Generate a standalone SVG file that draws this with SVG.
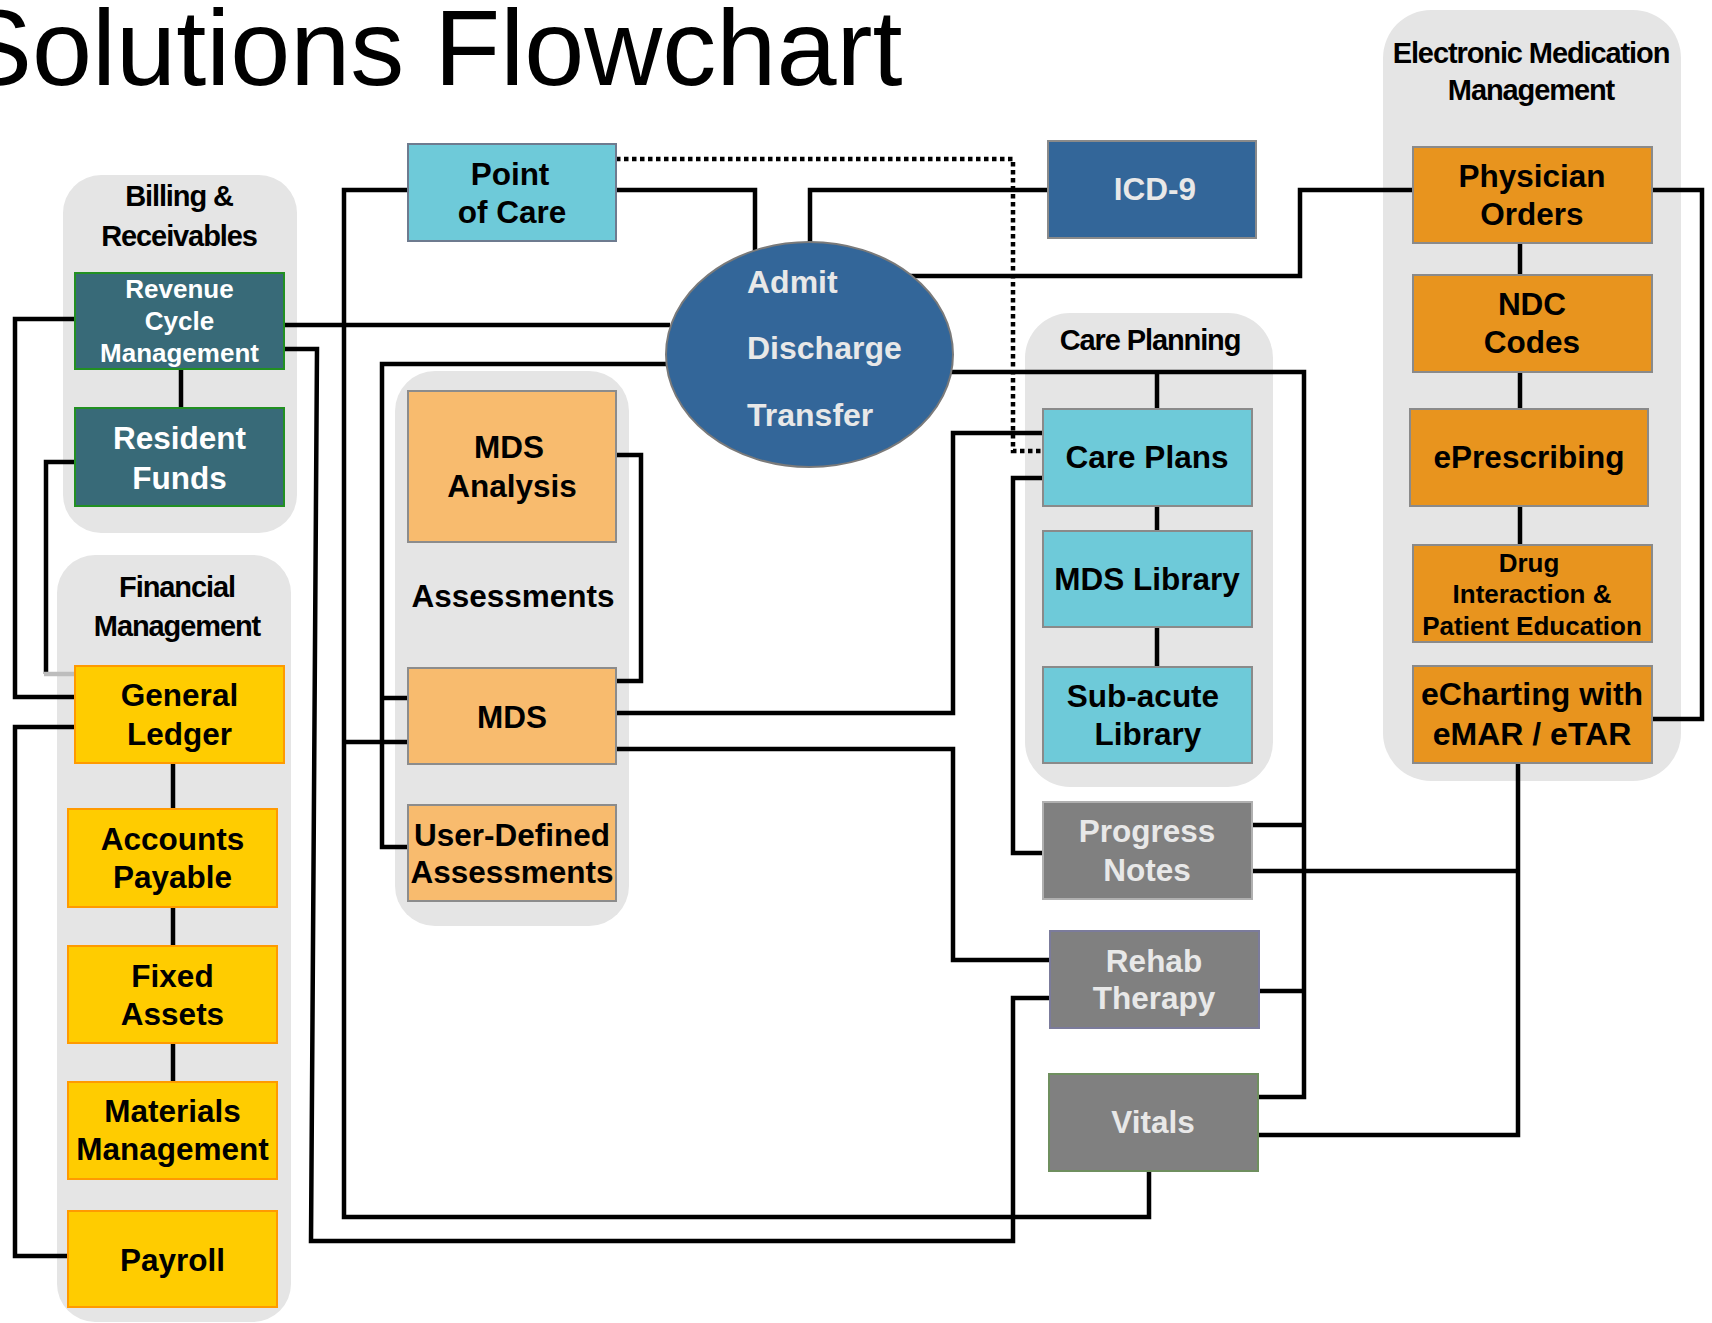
<svg xmlns="http://www.w3.org/2000/svg" width="1712" height="1323" viewBox="0 0 1712 1323">
<style>
text{font-family:"Liberation Sans",Arial,Helvetica,sans-serif;text-anchor:middle}
.title{font-size:108px;text-anchor:start;fill:#000}
.gbg{fill:#e5e5e5}
.gt{font-size:29px;font-weight:bold;letter-spacing:-1.1px;fill:#000}
.lbl{font-size:31.5px;font-weight:bold;fill:#000}
.lw{font-size:31.5px;font-weight:bold;fill:#e8e8e8}
.teal{fill:#386a78;stroke:#229022;stroke-width:2}
.yel{fill:#ffcc00;stroke:#ff9a00;stroke-width:2}
.cyan{fill:#6ecad9;stroke:#8a8a8a;stroke-width:2}
.blue{fill:#336699;stroke:#8a8a8a;stroke-width:2}
.peach{fill:#f8bb6e;stroke:#8c8c8c;stroke-width:2}
.org{fill:#e8941e;stroke:#8a8a8a;stroke-width:2}
.gry{fill:#808080;stroke:#b0b0b0;stroke-width:2}
.c{fill:none;stroke:#000;stroke-width:4.5;stroke-linejoin:miter}
.dot{fill:none;stroke:#000;stroke-width:4.5;stroke-dasharray:4.5 3.5}
</style>

<text class="title" x="-40" y="85">Solutions Flowchart</text>

<!-- container groups -->
<g id="billing-receivables">
  <rect class="gbg" x="63" y="175" width="234" height="358" rx="38"/>
  <text class="gt" x="179" y="206">Billing &amp;</text>
  <text class="gt" x="179" y="246">Receivables</text>
</g>
<g id="financial-management">
  <rect class="gbg" x="57" y="555" width="234" height="767" rx="38"/>
  <text class="gt" x="177" y="597">Financial</text>
  <text class="gt" x="177" y="636">Management</text>
</g>
<g id="assessments">
  <rect class="gbg" x="395" y="371" width="234" height="555" rx="40"/>
  <text class="lbl" x="513" y="607">Assessments</text>
</g>
<g id="care-planning">
  <rect class="gbg" x="1025" y="313" width="248" height="474" rx="45"/>
  <text class="gt" x="1150" y="350">Care Planning</text>
</g>
<g id="electronic-medication-management">
  <rect class="gbg" x="1383" y="10" width="298" height="771" rx="48"/>
  <text class="gt" x="1531" y="63">Electronic Medication</text>
  <text class="gt" x="1531" y="100">Management</text>
</g>

<!-- connectors -->
<g id="connectors">
  <path class="c" d="M75,319 H15 V697 H75"/>
  <path class="c" d="M75,462 H46 V674"/>
  <path fill="none" stroke="#bdbdbd" stroke-width="4.5" d="M44,674 H75"/>
  <path class="c" d="M75,727 H15 V1256 H68"/>
  <path class="c" d="M284,325 H670"/>
  <path class="c" d="M284,349 H317 L311,1241 H1013 V998 H1050"/>
  <path class="c" d="M408,190 H344 V1217 H1149 V1171"/>
  <path class="c" d="M344,742 H408"/>
  <path class="c" d="M616,190 H755 V251"/>
  <path class="c" d="M1048,190 H810 V243"/>
  <path class="c" d="M910,276 H1300 V190 H1413"/>
  <path class="c" d="M668,364 H382 V847 H408"/>
  <path class="c" d="M382,698 H408"/>
  <path class="c" d="M616,455 H641 V681 H616"/>
  <path class="c" d="M616,713 H953 V433 H1043"/>
  <path class="c" d="M616,749 H953 V960 H1050"/>
  <path class="dot" d="M616,159 H1013 V451 H1043"/>
  <path class="c" d="M1043,478 H1013 V853 H1043"/>
  <path class="c" d="M950,372 H1304 V1097 H1258"/>
  <path class="c" d="M1157,372 V409"/>
  <path class="c" d="M1252,825 H1304"/>
  <path class="c" d="M1259,991 H1304"/>
  <path class="c" d="M1252,871 H1518"/>
  <path class="c" d="M1518,763 V1135 H1258"/>
  <path class="c" d="M1652,190 H1702 V719 H1652"/>
  <path class="c" d="M1520,243 V275"/>
  <path class="c" d="M1520,372 V409"/>
  <path class="c" d="M1520,506 V545"/>
  <path class="c" d="M1157,506 V531"/>
  <path class="c" d="M1157,627 V667"/>
  <path class="c" d="M181,369 V408"/>
  <path class="c" d="M173,763 V809"/>
  <path class="c" d="M173,907 V946"/>
  <path class="c" d="M173,1043 V1082"/>
</g>

<!-- nodes -->
<g id="point-of-care">
  <rect class="cyan" x="408" y="144" width="208" height="97" style="stroke:#6e7b8f"/>
  <text class="lbl" x="510" y="185">Point</text>
  <text class="lbl" x="512" y="223">of Care</text>
</g>
<g id="icd-9">
  <rect class="blue" x="1048" y="141" width="208" height="97"/>
  <text class="lw" x="1155" y="200">ICD-9</text>
</g>
<g id="adt">
  <ellipse class="blue" cx="809.5" cy="354.5" rx="143.5" ry="112.5" style="stroke:#7a7a7a"/>
  <text class="lw" x="747" y="293" style="text-anchor:start;font-size:32px">Admit</text>
  <text class="lw" x="747" y="359" style="text-anchor:start;font-size:32px">Discharge</text>
  <text class="lw" x="747" y="426" style="text-anchor:start;font-size:32px">Transfer</text>
</g>
<g id="revenue-cycle-management">
  <rect class="teal" x="75" y="273" width="209" height="96"/>
  <text class="lw" x="179.5" y="298" style="font-size:26px;fill:#fff">Revenue</text>
  <text class="lw" x="179.5" y="330" style="font-size:26px;fill:#fff">Cycle</text>
  <text class="lw" x="179.5" y="362" style="font-size:26px;fill:#fff">Management</text>
</g>
<g id="resident-funds">
  <rect class="teal" x="75" y="408" width="209" height="98"/>
  <text class="lw" x="179.5" y="449" style="fill:#fff">Resident</text>
  <text class="lw" x="179.5" y="489" style="fill:#fff">Funds</text>
</g>
<g id="general-ledger">
  <rect class="yel" x="75" y="666" width="209" height="97"/>
  <text class="lbl" x="179.5" y="706">General</text>
  <text class="lbl" x="179.5" y="745">Ledger</text>
</g>
<g id="accounts-payable">
  <rect class="yel" x="68" y="809" width="209" height="98"/>
  <text class="lbl" x="172.5" y="850">Accounts</text>
  <text class="lbl" x="172.5" y="888">Payable</text>
</g>
<g id="fixed-assets">
  <rect class="yel" x="68" y="946" width="209" height="97"/>
  <text class="lbl" x="172.5" y="987">Fixed</text>
  <text class="lbl" x="172.5" y="1025">Assets</text>
</g>
<g id="materials-management">
  <rect class="yel" x="68" y="1082" width="209" height="97"/>
  <text class="lbl" x="172.5" y="1122">Materials</text>
  <text class="lbl" x="172.5" y="1160">Management</text>
</g>
<g id="payroll">
  <rect class="yel" x="68" y="1211" width="209" height="96"/>
  <text class="lbl" x="172.5" y="1271">Payroll</text>
</g>
<g id="mds-analysis">
  <rect class="peach" x="408" y="391" width="208" height="151"/>
  <text class="lbl" x="509" y="458">MDS</text>
  <text class="lbl" x="512" y="497">Analysis</text>
</g>
<g id="mds">
  <rect class="peach" x="408" y="668" width="208" height="96"/>
  <text class="lbl" x="512" y="728">MDS</text>
</g>
<g id="user-defined-assessments">
  <rect class="peach" x="408" y="805" width="208" height="96"/>
  <text class="lbl" x="512" y="846">User-Defined</text>
  <text class="lbl" x="512" y="883">Assessments</text>
</g>
<g id="care-plans">
  <rect class="cyan" x="1043" y="409" width="209" height="97"/>
  <text class="lbl" x="1147" y="468">Care Plans</text>
</g>
<g id="mds-library">
  <rect class="cyan" x="1043" y="531" width="209" height="96"/>
  <text class="lbl" x="1147" y="590">MDS Library</text>
</g>
<g id="sub-acute-library">
  <rect class="cyan" x="1043" y="667" width="209" height="96"/>
  <text class="lbl" x="1143" y="707">Sub-acute</text>
  <text class="lbl" x="1148" y="745">Library</text>
</g>
<g id="progress-notes">
  <rect class="gry" x="1043" y="802" width="209" height="97"/>
  <text class="lw" x="1147" y="842">Progress</text>
  <text class="lw" x="1147" y="881">Notes</text>
</g>
<g id="rehab-therapy">
  <rect class="gry" x="1050" y="931" width="209" height="97" style="stroke:#7b7b9b"/>
  <text class="lw" x="1154" y="972">Rehab</text>
  <text class="lw" x="1154" y="1009">Therapy</text>
</g>
<g id="vitals">
  <rect class="gry" x="1049" y="1074" width="209" height="97" style="stroke:#6f8f5f"/>
  <text class="lw" x="1153" y="1133">Vitals</text>
</g>
<g id="physician-orders">
  <rect class="org" x="1413" y="147" width="239" height="96"/>
  <text class="lbl" x="1532" y="187">Physician</text>
  <text class="lbl" x="1532" y="225">Orders</text>
</g>
<g id="ndc-codes">
  <rect class="org" x="1413" y="275" width="239" height="97"/>
  <text class="lbl" x="1532" y="315">NDC</text>
  <text class="lbl" x="1532" y="353">Codes</text>
</g>
<g id="eprescribing">
  <rect class="org" x="1410" y="409" width="238" height="97"/>
  <text class="lbl" x="1529" y="468">ePrescribing</text>
</g>
<g id="drug-interaction">
  <rect class="org" x="1413" y="545" width="239" height="97"/>
  <text class="lbl" x="1529" y="572" style="font-size:26px">Drug</text>
  <text class="lbl" x="1532" y="603" style="font-size:26px">Interaction &amp;</text>
  <text class="lbl" x="1532" y="635" style="font-size:26px">Patient Education</text>
</g>
<g id="echarting">
  <rect class="org" x="1413" y="666" width="239" height="97"/>
  <text class="lbl" x="1532" y="705" style="font-size:32px">eCharting with</text>
  <text class="lbl" x="1532" y="745" style="font-size:32px">eMAR / eTAR</text>
</g>
</svg>
